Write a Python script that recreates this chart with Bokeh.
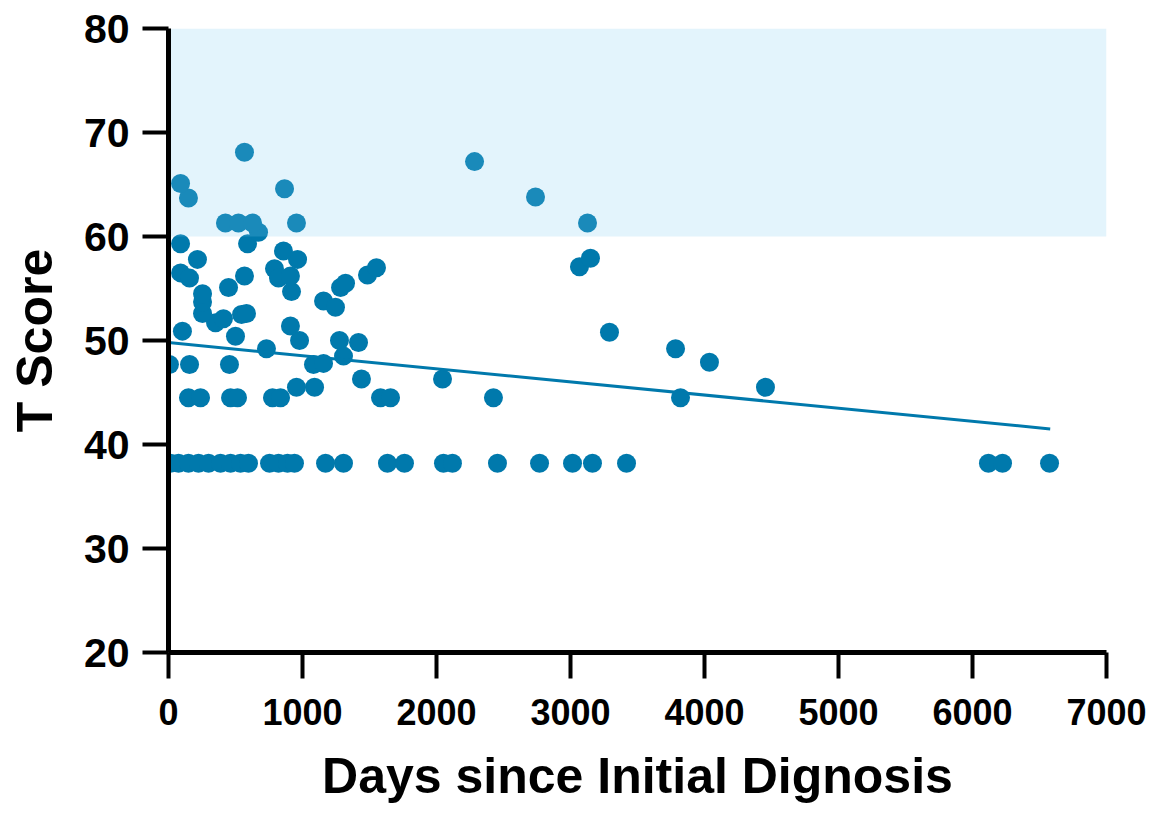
from bokeh.plotting import figure
from bokeh.models import Range1d, FixedTicker, ColumnDataSource
from bokeh.embed import file_html
from bokeh.resources import INLINE

# Days since initial diagnosis and T score
days = [15, 75, 149, 224, 299, 388, 463, 537, 597, 754, 821, 888, 940, 1172, 1306, 1634, 1761,
        2052, 2119, 2455, 2769, 3015, 3164, 3418, 6119, 6224, 6575,
        149, 239, 463, 515, 776, 836, 1582, 1657, 2425, 3821,
        7, 157, 455, 1082, 1157,
        1440, 2045, 955, 1090, 4455, 4037, 3784, 3291, 731, 1306, 1276, 1418, 978, 500, 104,
        910, 351, 410, 545, 582, 254, 254, 254, 1157, 1246, 448, 918, 1284, 1321, 1485, 1552,
        90, 157, 567, 791, 821, 910, 216, 963, 858, 3067, 3149, 90, 590, 672,
        425, 522, 627, 955, 3127, 149, 90, 866, 567, 2284, 2739]
tscore = [38.2] * 27 + [44.5] * 10 + [47.7, 47.7, 47.7, 47.7, 47.8] + \
         [46.3, 46.3, 45.5, 45.5, 45.5, 47.9, 49.2, 50.8, 49.2, 48.5, 50.0, 49.8, 50.0, 50.4, 50.9,
          51.4, 51.7, 52.1, 52.5, 52.6, 52.6, 53.7, 54.5, 53.8, 53.2, 55.1, 54.7, 55.1, 55.5, 56.3, 57.0,
          56.5, 56.0, 56.2, 56.9, 56.0, 56.2, 57.8, 57.8, 58.6, 57.1, 57.9, 59.3, 59.3, 60.4,
          61.3, 61.3, 61.3, 61.3, 61.3, 63.7, 65.1, 64.6, 68.1, 67.2, 63.8]

# Regression line endpoints
fit_days = [0, 6580]
fit_tscore = [49.8, 41.5]

# Shaded band
band_x = [0, 7000]
band_y = [60, 80]

x_ticks = [0, 1000, 2000, 3000, 4000, 5000, 6000, 7000]
y_ticks = [20, 30, 40, 50, 60, 70, 80]

BLUE = "#0079AC"

p = figure(width=1148, height=818, output_backend="svg", toolbar_location=None,
           x_range=Range1d(0, 7000), y_range=Range1d(20, 80),
           min_border_left=168, min_border_right=42, min_border_top=28, min_border_bottom=166)

src = ColumnDataSource(dict(x=days, y=tscore))
p.scatter("x", "y", source=src, size=19, color=BLUE, line_color=None)
p.line(fit_days, fit_tscore, line_color=BLUE, line_width=3)
p.quad(left=band_x[0], right=band_x[1], bottom=band_y[0], top=band_y[1],
       fill_color="rgb(121,202,240)", fill_alpha=0.21, line_color=None)

p.grid.visible = False
p.outline_line_color = None
p.background_fill_color = "white"

p.xaxis.ticker = FixedTicker(ticks=x_ticks)
p.yaxis.ticker = FixedTicker(ticks=y_ticks)

for ax in (p.xaxis[0], p.yaxis[0]):
    ax.axis_line_width = 5
    ax.axis_line_color = "black"
    ax.major_tick_line_width = 4
    ax.major_tick_line_color = "black"
    ax.major_tick_out = 26
    ax.major_tick_in = 0
    ax.minor_tick_line_color = None
    ax.major_label_text_font_style = "bold"
    ax.major_label_text_color = "black"
    ax.axis_label_text_font_style = "bold"
    ax.axis_label_text_color = "black"

p.xaxis.major_label_text_font = "Liberation Sans"
p.xaxis.major_label_text_font_size = "36px"
p.xaxis.major_label_standoff = 20
p.xaxis.axis_label = "Days since Initial Dignosis"
p.xaxis.axis_label_text_font = "Liberation Sans"
p.xaxis.axis_label_text_font_size = "50px"
p.xaxis.axis_label_standoff = 20

p.yaxis.major_label_text_font = "Liberation Sans"
p.yaxis.major_label_text_font_size = "41px"
p.yaxis.major_label_standoff = 13
p.yaxis.axis_label = "T Score"
p.yaxis.axis_label_text_font = "Liberation Sans"
p.yaxis.axis_label_text_font_size = "50px"
p.yaxis.axis_label_standoff = 18

open("out.html", "w").write(file_html(p, INLINE))
